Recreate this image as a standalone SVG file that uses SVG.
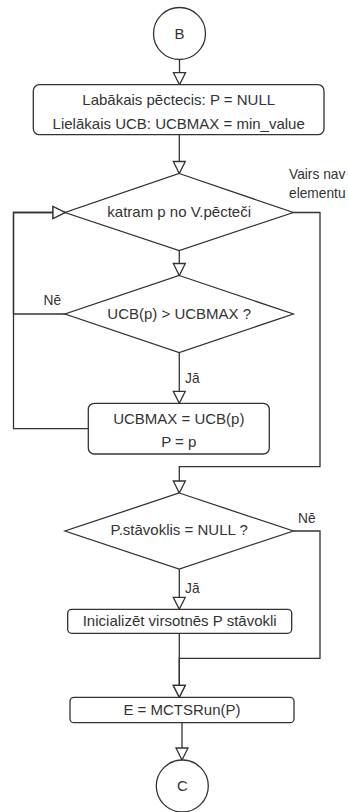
<svg xmlns="http://www.w3.org/2000/svg" width="349" height="812" viewBox="0 0 349 812">
  <style>
    .shape { fill: #ffffff; stroke: #333333; stroke-width: 1.3; }
    .edge { fill: none; stroke: #333333; stroke-width: 1.3; }
    .txt { font-family: "Liberation Sans", Arial, sans-serif; font-size: 15px; fill: #333333; text-anchor: middle; }
    .lbl { font-family: "Liberation Sans", Arial, sans-serif; font-size: 13.75px; fill: #333333; }
  </style>
  <defs>
    <marker id="open-arrow" markerUnits="userSpaceOnUse" markerWidth="14" markerHeight="14" refX="12" refY="6" orient="auto" overflow="visible">
      <path d="M0,0 L12,6 L0,12 Z" fill="#ffffff" stroke="#333333" stroke-width="1.3"/>
    </marker>
  </defs>
  <rect width="349" height="812" fill="#ffffff"/>

  <!-- connectors -->
  <g id="connectors">
    <path class="edge" d="M179.5,59.5 V84.7" marker-end="url(#open-arrow)"/>
    <path class="edge" d="M179.3,134.7 V173.5" marker-end="url(#open-arrow)"/>
    <path class="edge" d="M179.3,250.5 V275.5" marker-end="url(#open-arrow)"/>
    <path class="edge" d="M179.3,352.5 V403.3" marker-end="url(#open-arrow)"/>
    <!-- "no" branch and loop back to the iterator -->
    <path class="edge" d="M65,314 H13.5 V212.5 H65" marker-end="url(#open-arrow)"/>
    <path class="edge" d="M88.3,428.7 H13.5 V212.5 H65" marker-end="url(#open-arrow)"/>
    <!-- loop exhausted -->
    <path class="edge" d="M293.3,212.5 H320 V466.7 H179.3 V493" marker-end="url(#open-arrow)"/>
    <path class="edge" d="M179.3,569 V609.3" marker-end="url(#open-arrow)"/>
    <path class="edge" d="M293.3,531 H320 V658.3 H179.3 V697.3" marker-end="url(#open-arrow)"/>
    <path class="edge" d="M179.3,633.3 V697.3" marker-end="url(#open-arrow)"/>
    <path class="edge" d="M182,722.7 V760" marker-end="url(#open-arrow)"/>

    <text class="lbl" x="289" y="179">Vairs nav</text>
    <text class="lbl" x="289" y="197.5">elementu</text>
    <text class="lbl" x="43.5" y="305">Nē</text>
    <text class="lbl" x="185" y="383">Jā</text>
    <text class="lbl" x="298" y="523">Nē</text>
    <text class="lbl" x="185" y="593">Jā</text>
  </g>

  <g id="start-b">
    <circle class="shape" cx="179.5" cy="33.5" r="26"/>
    <text class="txt" x="179.5" y="39">B</text>
  </g>

  <g id="init">
    <rect class="shape" x="33.3" y="84.7" width="290.7" height="50" rx="6"/>
    <text class="txt" x="178.7" y="104.5">Labākais pēctecis: P = NULL</text>
    <text class="txt" x="178.7" y="128.5">Lielākais UCB: UCBMAX = min_value</text>
  </g>

  <g id="for-each">
    <polygon class="shape" points="179.2,173.5 293.3,212.5 179.2,250.5 65,212.5"/>
    <text class="txt" x="179.2" y="217.3">katram p no V.pēcteči</text>
  </g>

  <g id="compare">
    <polygon class="shape" points="179.2,275.5 293.3,314 179.2,352.5 65,314"/>
    <text class="txt" x="179.2" y="319.3">UCB(p) &gt; UCBMAX ?</text>
  </g>

  <g id="update">
    <rect class="shape" x="88.3" y="403.3" width="181" height="50.7" rx="6"/>
    <text class="txt" x="178.8" y="424.3">UCBMAX = UCB(p)</text>
    <text class="txt" x="178.8" y="447">P = p</text>
  </g>

  <g id="state-null">
    <polygon class="shape" points="179.2,493 293.3,531 179.2,569 65,531"/>
    <text class="txt" x="179.2" y="534.6">P.stāvoklis = NULL ?</text>
  </g>

  <g id="init-state">
    <rect class="shape" x="67.7" y="609.3" width="224" height="24" rx="4"/>
    <text class="txt" x="179.7" y="626.3">Inicializēt virsotnēs P stāvokli</text>
  </g>

  <g id="run">
    <rect class="shape" x="70" y="697.3" width="224" height="25.4" rx="4"/>
    <text class="txt" x="182" y="715.3">E = MCTSRun(P)</text>
  </g>

  <g id="end-c">
    <circle class="shape" cx="182.3" cy="786" r="26"/>
    <text class="txt" x="182.3" y="791.3">C</text>
  </g>
</svg>
